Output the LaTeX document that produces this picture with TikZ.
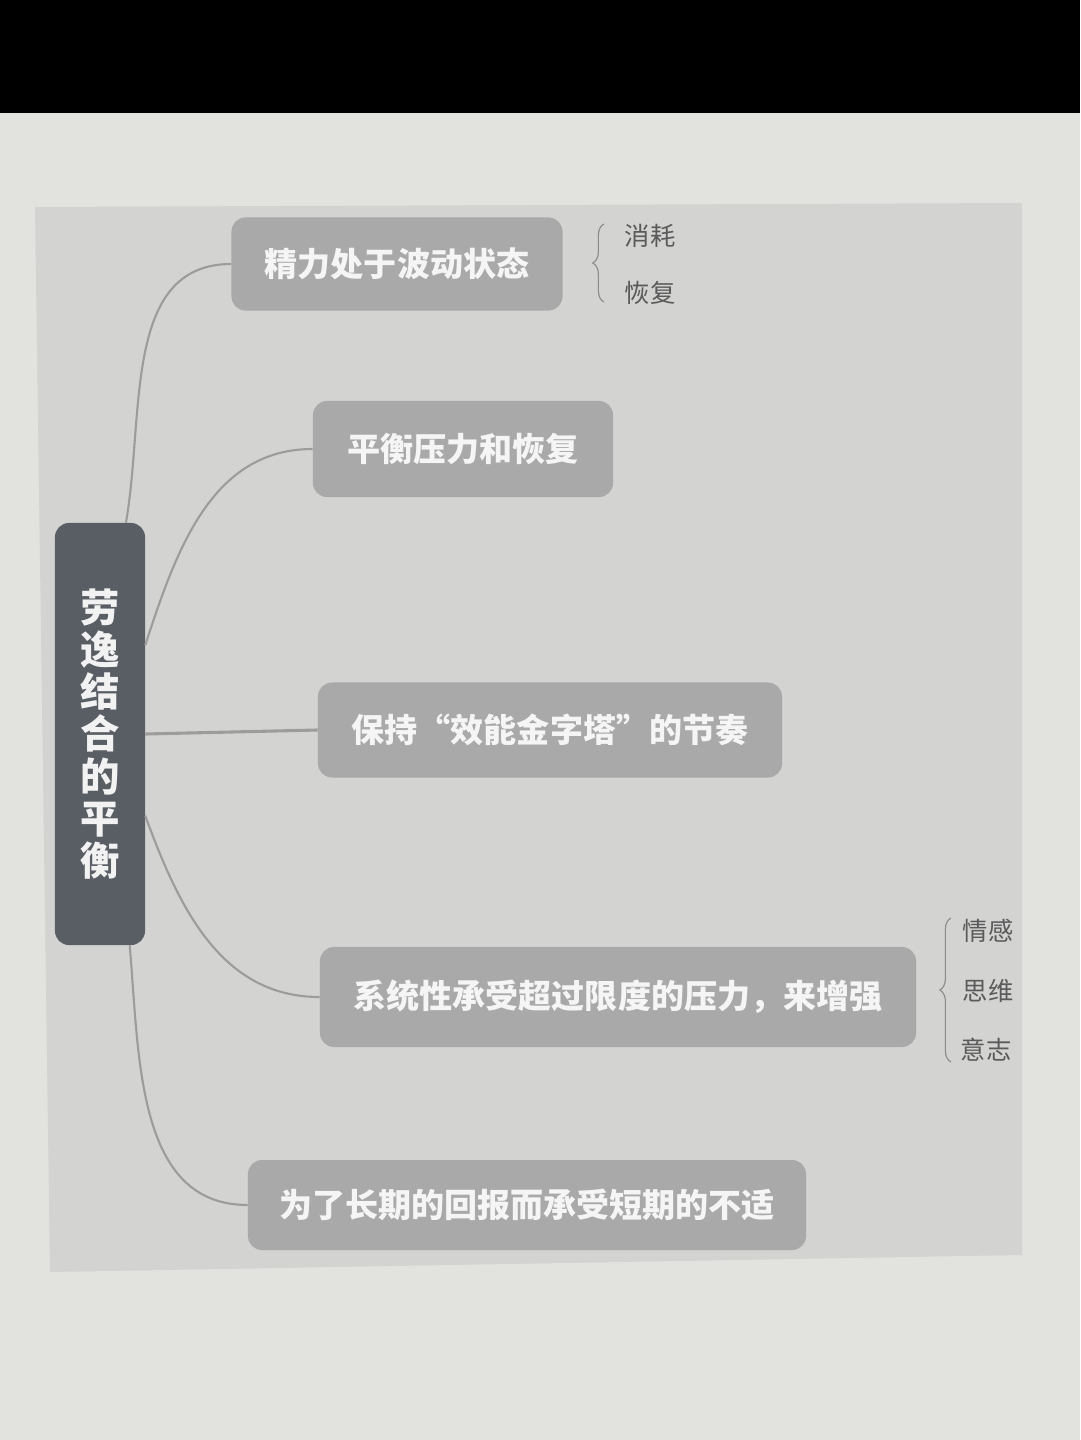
\documentclass[tikz,border=0pt]{standalone}
\usepackage{fontspec}
\newfontfamily\cjk{Noto Sans CJK SC}
\usetikzlibrary{decorations.pathreplacing}
\definecolor{pagegray}{HTML}{E2E2DF}
\definecolor{panelgray}{HTML}{D3D3D2}
\definecolor{boxgray}{HTML}{A9A9A9}
\definecolor{rootgray}{HTML}{595E64}
\definecolor{linegray}{HTML}{9C9C9C}
\definecolor{labelgray}{HTML}{5A5A5A}

\begin{document}
\begin{tikzpicture}[x=0.025cm,y=0.025cm,
        topic/.style={fill=boxgray,rounded corners=10pt,text=white!92!gray,inner sep=0pt,
          font=\cjk\bfseries\fontsize{23.5}{28}\selectfont},
        root/.style={fill=rootgray,rounded corners=10pt,text=white!90!gray,inner sep=0pt,align=center,
          minimum width=2.25cm,minimum height=10.55cm,font=\cjk\bfseries\fontsize{28}{30}\selectfont},
        leaf/.style={text=labelgray,inner sep=0pt,font=\cjk\fontsize{18}{20}\selectfont},
        branch/.style={draw=linegray,line width=1.5pt},
        bracket/.style={draw=labelgray!70,line width=0.8pt,decorate,decoration={brace,amplitude=8pt}}]
        % page, screen band and panel
        \fill[pagegray] (0,0) rectangle (1080,-1440);
        \fill[black] (0,0) rectangle (1080,-113);
        \fill[panelgray] (35,-207) -- (1022,-203) -- (1022,-1255) -- (50,-1272) -- cycle;
        % nodes
        \node[root] (center) at (100,-734) {劳\\逸\\结\\合\\的\\平\\衡};
        \node[topic,minimum width=8.275cm,minimum height=2.325cm] (jingli) at (397,-264) {精力处于波动状态};
        \node[topic,minimum width=7.5cm,minimum height=2.4cm] (pingheng) at (463,-449) {平衡压力和恢复};
        \node[topic,minimum width=11.6cm,minimum height=2.375cm] (baochi) at (550,-730) {保持“效能金字塔”的节奏};
        \node[topic,minimum width=14.9cm,minimum height=2.5cm] (xitong) at (618,-997) {系统性承受超过限度的压力，来增强};
        \node[topic,minimum width=13.95cm,minimum height=2.25cm] (weile) at (527,-1205) {为了长期的回报而承受短期的不适};
        \node[leaf] (xiaohao) at (650,-236) {消耗};
        \node[leaf] (huifu) at (650,-293) {恢复};
        \node[leaf] (qinggan) at (988,-931) {情感};
        \node[leaf] (siwei) at (988,-991) {思维};
        \node[leaf] (yizhi) at (986,-1050) {意志};
        % branches
        \draw[branch] (center.83) to[out=80,in=180] (jingli.west);
        \draw[branch] (center.63) to[out=72,in=180] (pingheng.west);
        \draw[branch,line width=2.2pt] (center.east) -- (baochi.west);
        \draw[branch] (center.-61) to[out=-70,in=180] (xitong.west);
        \draw[branch] (center.-82) to[out=-85,in=180] (weile.west);
        % braces
        \draw[bracket] (604,-302) -- (604,-224);
        \draw[bracket] (951,-1062) -- (951,-918);
\end{tikzpicture}
\end{document}
